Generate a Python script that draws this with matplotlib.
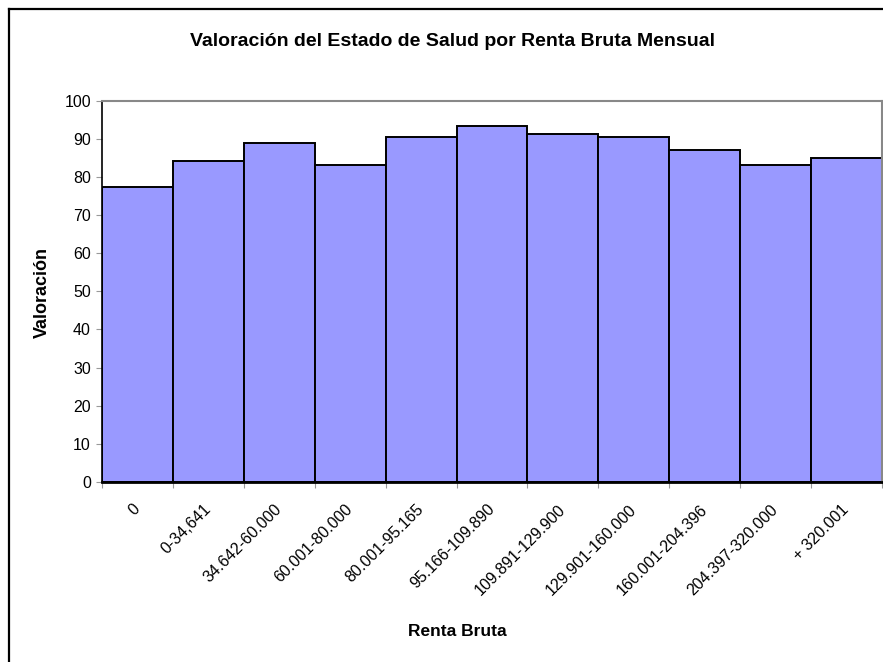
import matplotlib.pyplot as plt
from matplotlib.lines import Line2D

plt.rcParams['font.family'] = ['Liberation Sans', 'DejaVu Sans']

# rangos de renta bruta mensual y valoracion media
categorias = ['0', '0-34,641', '34.642-60.000', '60.001-80.000', '80.001-95.165',
              '95.166-109.890', '109.891-129.900', '129.901-160.000',
              '160.001-204.396', '204.397-320.000', '+ 320.001']
valoracion = [77.4, 84.3, 88.9, 83.2, 90.6, 93.4, 91.3, 90.5, 87.1, 83.2, 85.0]


def plot_valoracion():
    fig = plt.figure(figsize=(8.83, 6.62), dpi=100)
    ax = fig.add_axes([102 / 883, 1 - 482 / 662, 780 / 883, 381.3 / 662])

    pos = range(len(categorias))
    ax.bar(pos, valoracion, width=1.0, align='edge', color='#9999FF',
           edgecolor='black', linewidth=1.4, zorder=2)

    ax.set_xlim(0, len(categorias))
    ax.set_ylim(0, 100)
    ax.set_yticks(range(0, 101, 10))

    # ticks en los bordes de las barras, etiquetas centradas
    ax.set_xticks(range(len(categorias) + 1))
    ax.set_xticklabels([])
    ax.set_xticks([p + 0.5 for p in pos], minor=True)
    ax.set_xticklabels(categorias, minor=True, rotation=45, ha='right',
                       va='center', rotation_mode='anchor', fontsize=11.5)
    ax.tick_params(axis='x', which='minor', length=0, pad=18)
    ax.tick_params(axis='x', which='major', length=4, color='#999999', direction='out')
    ax.tick_params(axis='y', length=4, color='#999999', direction='out', labelsize=11.5, pad=4)

    for s in ['top', 'right']:
        ax.spines[s].set_color('#888888')
        ax.spines[s].set_linewidth(1.5)
    ax.spines['left'].set_linewidth(1.2)
    ax.spines['bottom'].set_linewidth(2)

    fig.text(453 / 883, 1 - 42 / 662, 'Valoración del Estado de Salud por Renta Bruta Mensual',
             ha='center', va='center', fontsize=14, fontweight='bold')
    fig.text(457 / 883, 1 - 631 / 662, 'Renta Bruta', ha='center', va='center',
             fontsize=12.5, fontweight='bold')
    fig.text(42 / 883, 1 - 292 / 662, 'Valoración', ha='center', va='center',
             rotation=90, fontsize=13, fontweight='bold')

    # marco exterior del grafico
    fig.add_artist(Line2D([8.5 / 883, 8.5 / 883], [0, 1 - 8.5 / 662], color='black', lw=1.6))
    fig.add_artist(Line2D([8.5 / 883, 1], [1 - 8.5 / 662, 1 - 8.5 / 662], color='black', lw=1.6))

    fig.savefig('out.png', dpi=100)


if __name__ == '__main__':
    plot_valoracion()
